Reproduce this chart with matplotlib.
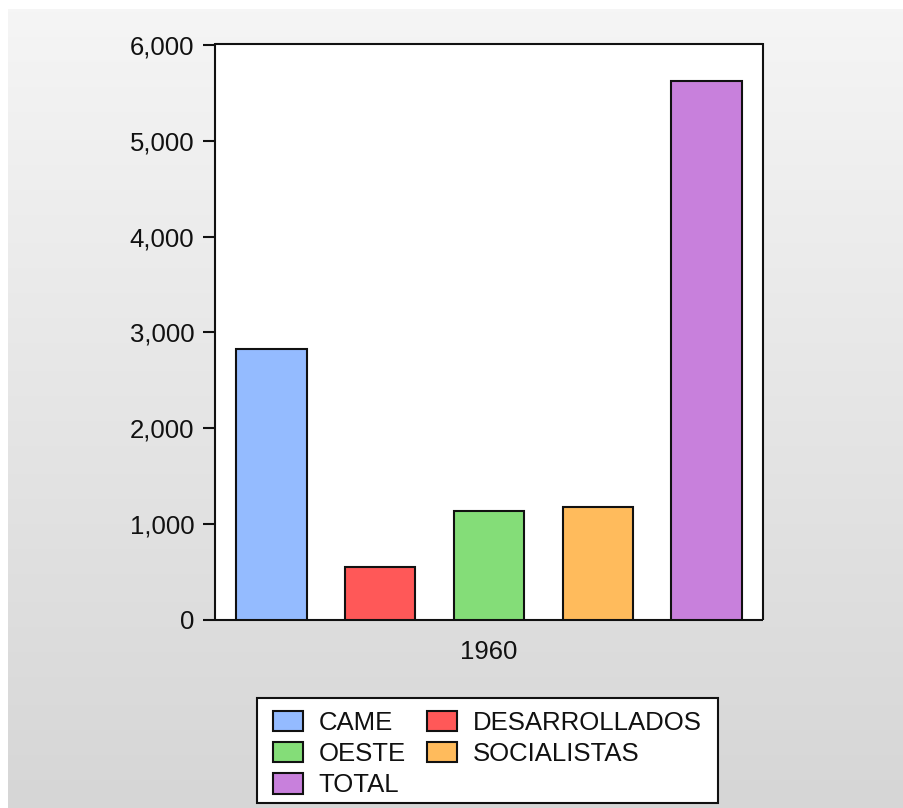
import numpy as np
import matplotlib
matplotlib.use("Agg")
import matplotlib.pyplot as plt
from matplotlib.ticker import FuncFormatter, FixedLocator
from matplotlib.patches import Patch, Rectangle

# ---- data ----
categories = ["CAME", "DESARROLLADOS", "OESTE", "SOCIALISTAS", "TOTAL"]
values = [2829, 553, 1136, 1181, 5632]
colors = ["#94bbff", "#ff5858", "#84dd78", "#ffbb5c", "#c880dc"]
year_label = "1960"
y_ticks = [0, 1000, 2000, 3000, 4000, 5000, 6000]

plt.rcParams["font.family"] = ["Liberation Sans", "DejaVu Sans"]
W, H = 904, 808
fig = plt.figure(figsize=(W / 100, H / 100), dpi=100)
fig.patch.set_facecolor("white")

# gradient background (with thin white border on left/top)
bg = fig.add_axes([8 / W, 0, (W - 8) / W, (H - 9) / H], zorder=-10)
grad = np.linspace(245, 214, 256)[:, None] / 255.0
bg.imshow(np.dstack([grad, grad, grad]), aspect="auto", extent=[0, 1, 0, 1])
bg.set_axis_off()

ax = fig.add_axes([215 / W, 1 - 619.5 / H, 548 / W, (619.5 - 43.5) / H])
ax.set_facecolor("white")

n = len(categories)
x = np.arange(n) - (n - 1) / 2
for xi, v, c, lab in zip(x, values, colors, categories):
    ax.bar(xi, v, width=0.648, color=c, edgecolor="#111111", linewidth=1.5, label=lab, zorder=3)

ax.set_xlim(-2.52, 2.52)
ax.set_ylim(0, 6020)
ax.yaxis.set_major_locator(FixedLocator(y_ticks))
ax.yaxis.set_major_formatter(FuncFormatter(lambda v, p: f"{int(v):,}"))
ax.set_xticks([0])
ax.set_xticklabels([year_label])
ax.tick_params(axis="y", length=9, width=1.5, pad=6, labelsize=18.5, colors="#111111")
ax.tick_params(axis="x", length=0, pad=15, labelsize=18.5, colors="#111111",
               top=False, labeltop=False)
ax.minorticks_off()
for s in ax.spines.values():
    s.set_linewidth(1.5)
    s.set_color("#111111")
    s.set_capstyle("butt")

# legend frame drawn as a figure rectangle
frame = Rectangle((257 / W, 1 - 803 / H), (718 - 257) / W, (803 - 698) / H,
                  transform=fig.transFigure, facecolor="white", edgecolor="#111111",
                  linewidth=1.5, zorder=5)
fig.add_artist(frame)

handles = [Patch(facecolor=c, edgecolor="#111111", linewidth=1.5) for c in colors]
order = [0, 2, 4, 1, 3]
leg = fig.legend([handles[i] for i in order], [categories[i] for i in order],
                 ncol=2, loc="upper left", bbox_to_anchor=(265 / W, 1 - 703 / H),
                 fontsize=18.5, frameon=False, handlelength=1.16, handleheight=0.84,
                 handletextpad=0.62, columnspacing=0.83, labelspacing=0.28, borderpad=0.3,
                 borderaxespad=0)
leg.set_zorder(6)
for t in leg.get_texts():
    t.set_color("#111111")

fig.savefig("out.png", dpi=100)
